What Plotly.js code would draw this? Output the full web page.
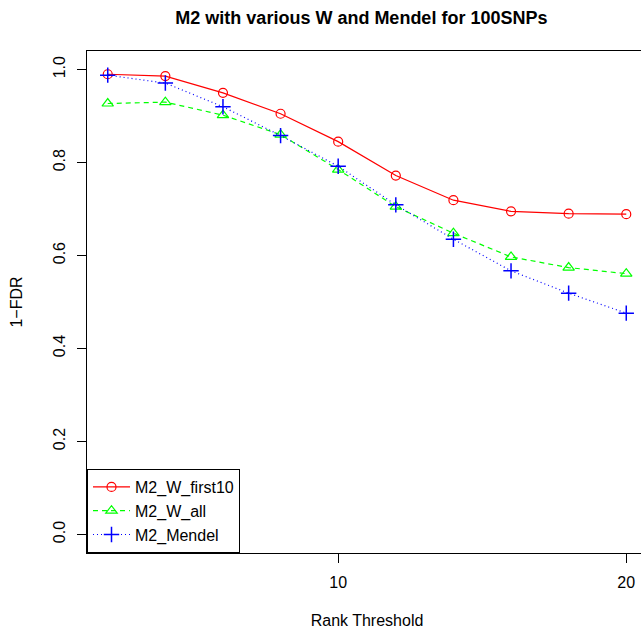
<!DOCTYPE html>
<html>
<head>
<meta charset="utf-8">
<script src="https://cdn.plot.ly/plotly-3.0.1.min.js"></script>
<style>
html, body { margin: 0; padding: 0; overflow: hidden; background: #fff; }
#chart { width: 680px; height: 635px; }
</style>
</head>
<body>
<div id="chart"></div>
<script>
var rankThreshold = [2, 4, 6, 8, 10, 12, 14, 16, 18, 20];
var m2WFirst10 = [0.990, 0.986, 0.950, 0.905, 0.845, 0.772, 0.719, 0.695, 0.690, 0.689];
var m2WAll = [0.927, 0.930, 0.902, 0.860, 0.785, 0.705, 0.648, 0.597, 0.574, 0.561];
var m2Mendel = [0.988, 0.971, 0.920, 0.858, 0.792, 0.709, 0.635, 0.567, 0.519, 0.476];
var seriesNames = ["M2_W_first10", "M2_W_all", "M2_Mendel"];

var font = "Liberation Sans, Arial, Helvetica, sans-serif";

var traces = [
  {
    x: rankThreshold, y: m2WFirst10, name: seriesNames[0], type: "scatter", mode: "lines+markers",
    line: {color: "#FF0000", width: 1.2, dash: "solid"},
    marker: {symbol: "circle-open", size: 9, color: "#FF0000", line: {width: 1.2, color: "#FF0000"}}
  },
  {
    x: rankThreshold, y: m2WAll, name: seriesNames[1], type: "scatter", mode: "lines+markers",
    line: {color: "#00FF00", width: 1.2, dash: "5px,4px"},
    marker: {symbol: "triangle-up-open", size: 10, color: "#00FF00", line: {width: 1.2, color: "#00FF00"}}
  },
  {
    x: rankThreshold, y: m2Mendel, name: seriesNames[2], type: "scatter", mode: "lines+markers",
    line: {color: "#0000FF", width: 1.2, dash: "1px,3px"},
    marker: {symbol: "cross-thin-open", size: 11, color: "#0000FF", line: {width: 1.5, color: "#0000FF"}}
  }
];

var layout = {
  width: 680, height: 635,
  margin: {l: 87, r: 33, t: 51, b: 82, pad: 0},
  paper_bgcolor: "#ffffff", plot_bgcolor: "#ffffff",
  font: {family: font, size: 16, color: "#000000"},
  showlegend: true,
  title: {
    text: "<b>M2 with various W and Mendel for 100SNPs</b>",
    font: {family: font, size: 18, color: "#000000"},
    x: 0.49, xref: "paper", xanchor: "center",
    y: 0.972, yref: "container", yanchor: "middle"
  },
  xaxis: {
    range: [1.28, 20.72], tickmode: "array", tickvals: [10, 20], ticktext: ["10", "20"],
    showgrid: false, zeroline: false, showline: true, mirror: true, linecolor: "#000000", linewidth: 1,
    ticks: "outside", ticklen: 9, tickcolor: "#000000", tickwidth: 1, ticklabelstandoff: 6,
    tickfont: {family: font, size: 16},
    title: {text: "Rank Threshold", font: {family: font, size: 16}, standoff: 24}
  },
  yaxis: {
    range: [-0.04, 1.04], tickmode: "array", tickvals: [0, 0.2, 0.4, 0.6, 0.8, 1.0],
    ticktext: ["0.0", "0.2", "0.4", "0.6", "0.8", "1.0"], tickangle: -90,
    showgrid: false, zeroline: false, showline: true, mirror: true, linecolor: "#000000", linewidth: 1,
    ticks: "outside", ticklen: 9, tickcolor: "#000000", tickwidth: 1, ticklabelstandoff: 6,
    tickfont: {family: font, size: 16},
    title: {text: "1\u2212FDR", font: {family: font, size: 16}, standoff: 23}
  },
  legend: {
    x: 0, y: 0, xanchor: "left", yanchor: "bottom", xref: "paper", yref: "paper",
    bgcolor: "#ffffff", bordercolor: "#000000", borderwidth: 1,
    font: {family: font, size: 16}, tracegroupgap: 0, itemwidth: 37
  }
};

Plotly.newPlot("chart", traces, layout, {displayModeBar: false, staticPlot: true});
</script>
</body>
</html>
